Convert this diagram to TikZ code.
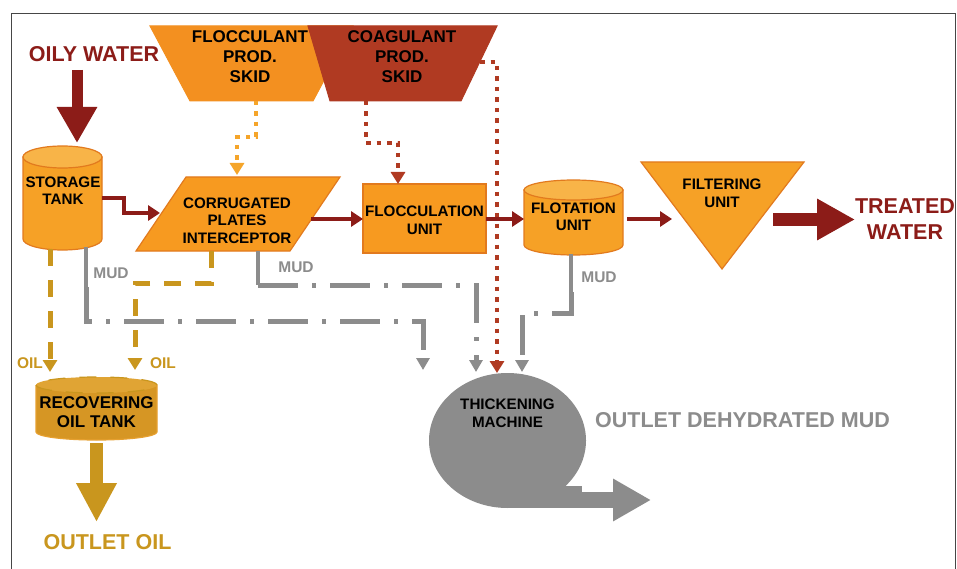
\documentclass[tikz,border=0pt]{standalone}
\usepackage{fontspec}
\setmainfont{Liberation Sans}
\usetikzlibrary{arrows.meta}
\definecolor{darkred}{RGB}{140,28,24}
\definecolor{skidorange}{RGB}{243,144,32}
\definecolor{coagred}{RGB}{176,58,34}
\definecolor{tankbody}{RGB}{246,161,38}
\definecolor{tanktop}{RGB}{248,180,72}
\definecolor{tankline}{RGB}{226,122,30}
\definecolor{unitfill}{RGB}{247,154,32}
\definecolor{floclight}{RGB}{245,165,42}
\definecolor{oilgold}{RGB}{201,150,30}
\definecolor{oilbody}{RGB}{214,150,36}
\definecolor{oiltop}{RGB}{224,164,52}
\definecolor{oilline}{RGB}{230,160,48}
\definecolor{mudgray}{RGB}{140,140,140}
\definecolor{framegray}{RGB}{70,70,70}
\begin{document}
\begin{tikzpicture}[x=1pt, y=-1pt,
		txt/.style={font=\bfseries\fontsize{15.2}{17.5}\selectfont, align=center, inner sep=0pt},
		skidtxt/.style={font=\bfseries\fontsize{17}{20}\selectfont, align=center, inner sep=0pt},
		bigtxt/.style={font=\bfseries\fontsize{21.5}{26}\selectfont, align=center, inner sep=0pt},
		mudtxt/.style={font=\bfseries\fontsize{15.5}{18}\selectfont, text=mudgray, inner sep=0pt},
		oiltxt/.style={font=\bfseries\fontsize{15.5}{18}\selectfont, text=oilgold, inner sep=0pt},
		flow/.style={draw=darkred, line width=4.5pt, -{Triangle[length=12pt,width=15pt]}},
		flocline/.style={draw=floclight, line width=4.5pt, dash pattern=on 4.5pt off 6pt, -{Triangle[length=12pt,width=14pt]}},
		coagline/.style={draw=coagred, line width=4.5pt, dash pattern=on 4.5pt off 6pt, -{Triangle[length=12pt,width=14pt]}},
		oilline/.style={draw=oilgold, line width=5pt, dash pattern=on 17pt off 14pt, -{Triangle[length=12pt,width=14pt]}},
		mudline/.style={draw=mudgray, line width=4pt},
		muddash/.style={draw=mudgray, line width=5pt, dash pattern=on 40pt off 14pt on 4pt off 14pt, -{Triangle[length=12pt,width=13pt]}},
	]
	\useasboundingbox (0,0) rectangle (957,569);
	\fill[white] (0,0) rectangle (957,569);
	\draw[framegray, line width=1pt] (11,580) -- (11,14) -- (955,14) -- (955,580);

	\draw[skidorange, fill=skidorange, line width=1pt] (150,26) -- (353,26) -- (313,101) -- (190,101) -- cycle;
	\draw[coagred, fill=coagred, line width=1pt] (308,26) -- (497,26) -- (461,101) -- (330,101) -- cycle;
	\node[skidtxt] (fs) at (250,57) {FLOCCULANT\\PROD.\\SKID};
	\node[skidtxt] (cs) at (402,57) {COAGULANT\\PROD.\\SKID};

	\draw[tankline, fill=tankbody, line width=1.2pt] (23,157) -- (23,239) arc[start angle=180, end angle=360, x radius=39.5pt, y radius=11pt] -- (102,157) -- cycle;
	\draw[tankline, fill=tanktop, line width=1.2pt] (62.5,157) ellipse[x radius=39.5pt, y radius=11pt];
	\node[txt] (st) at (63,190.5) {STORAGE\\TANK};

	\draw[tankline, fill=unitfill, line width=1.2pt] (186,177) -- (340,177) -- (290,251) -- (136,251) -- cycle;
	\node[txt] (cpi) at (237,220.5) {CORRUGATED\\PLATES\\INTERCEPTOR};

	\draw[tankline, fill=unitfill, line width=1.2pt] (363,184) rectangle (486,253);
	\node[txt] (fu) at (424.5,220.5) {FLOCCULATION\\UNIT};

	\draw[tankline, fill=tankbody, line width=1.2pt] (524,190) -- (524,245) arc[start angle=180, end angle=360, x radius=49.5pt, y radius=10pt] -- (623,190) -- cycle;
	\draw[tankline, fill=tanktop, line width=1.2pt] (573.5,190) ellipse[x radius=49.5pt, y radius=10pt];
	\node[txt] (flot) at (573.5,217) {FLOTATION\\UNIT};

	\draw[tankline, fill=tankbody, line width=1.2pt] (641,162) -- (804,162) -- (722,269) -- cycle;
	\node[txt] (filt) at (722,193.5) {FILTERING\\UNIT};

	\draw[oilline, draw=oilline, fill=oilbody, line width=1.2pt, dash pattern=on 1pt off 0pt, -] (36,385) -- (36,432) arc[start angle=180, end angle=360, x radius=60.5pt, y radius=8pt] -- (157,385) -- cycle;
	\draw[oilline, fill=oiltop, line width=1.2pt] (96.5,385) ellipse[x radius=60.5pt, y radius=8pt];
	\node[txt, font=\bfseries\fontsize{17}{19}\selectfont] (rot) at (96.5,412.5) {RECOVERING\\OIL TANK};

	\fill[mudgray] (507.5,440.5) ellipse[x radius=78.5pt, y radius=67.5pt];
	\fill[mudgray] (507.5,486) rectangle (582,508);
	\node[txt] (tm) at (507.5,413.5) {THICKENING\\MACHINE};

	\node[bigtxt, text=darkred] (ow) at (94,54) {OILY WATER};
	\node[bigtxt, text=darkred] (tw) at (905,219) {TREATED\\WATER};
	\node[bigtxt, text=mudgray] (odm) at (742.5,420) {OUTLET DEHYDRATED MUD};
	\node[bigtxt, text=oilgold] (oo) at (107.5,542) {OUTLET OIL};

	\coordinate (ow-s) at (77,70);
	\coordinate (st-n) at (77,143);
	\coordinate (st-e) at (102,198);
	\coordinate (cpi-w) at (160,213);
	\coordinate (cpi-e) at (311,219);
	\coordinate (fu-w) at (363,219);
	\coordinate (fu-e) at (486,219);
	\coordinate (flot-w) at (524,219);
	\coordinate (flot-e) at (627,219);
	\coordinate (filt-w) at (672,219);
	\coordinate (filt-e) at (773,219.5);
	\coordinate (tw-w) at (855,219.5);
	\coordinate (rot-s) at (96.5,443);
	\coordinate (oo-n) at (96.5,522);
	\coordinate (tm-e) at (582,500);
	\coordinate (odm-s) at (651,500);

	\draw[darkred, line width=11pt, -{Triangle[length=36pt,width=38pt]}] (ow-s) -- (st-n);
	\draw[flow] (st-e) -- (124,198) -- (124,213) -- (cpi-w);
	\draw[flow] (cpi-e) -- (fu-w);
	\draw[flow] (fu-e) -- (flot-w);
	\draw[flow] (flot-e) -- (filt-w);
	\draw[darkred, line width=13pt, -{Triangle[length=38pt,width=39pt]}] (filt-e) -- (tw-w);
	\draw[oilgold, line width=13pt, -{Triangle[length=39pt,width=38pt]}] (rot-s) -- (oo-n);
	\draw[mudgray, line width=16pt, -{Triangle[length=38pt,width=40pt]}] (tm-e) -- (odm-s);

	\draw[flocline] (256,101) -- (256,137) -- (237,137) -- (237,175);
	\draw[coagline] (366,101) -- (366,143) -- (398,143) -- (398,184);
	\draw[coagline] (480,62) -- (497,62) -- (497,373);

	\draw[oilline] (50,249) -- (50,372);
	\draw[oilline] (211,251) -- (211,283) -- (135,283) -- (135,370);
	\node[oiltxt] (oil1) at (30,363) {OIL};
	\node[oiltxt] (oil2) at (163,363) {OIL};

	\draw[mudline] (86,247) -- (86,287);
	\draw[muddash] (86,287) -- (86,321) -- (423,321) -- (423,370);
	\draw[mudline] (258,251) -- (258,285);
	\draw[muddash] (258,285) -- (476,285) -- (476,372);
	\draw[mudline] (571,254) -- (571,292);
	\draw[muddash] (571,292) -- (571,313) -- (522,313) -- (522,372);
	\node[mudtxt] (mud1) at (111,273) {MUD};
	\node[mudtxt] (mud2) at (296,267) {MUD};
	\node[mudtxt] (mud3) at (599,277) {MUD};
\end{tikzpicture}
\end{document}
